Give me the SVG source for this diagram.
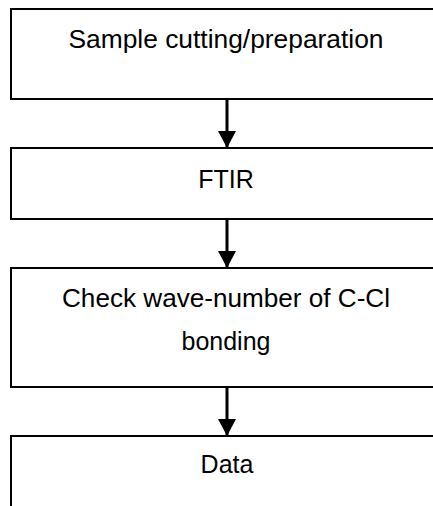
<svg xmlns="http://www.w3.org/2000/svg" width="433" height="506" viewBox="0 0 433 506">
<style>
.box{fill:#fff;stroke:#000;stroke-width:2}
.lbl{font-family:"Liberation Sans",Arial,sans-serif;font-size:25px;fill:#000;text-anchor:middle}
.conn{stroke:#000;stroke-width:3;fill:none}
</style>
<defs>
<marker id="ah" viewBox="0 0 17 18" refX="17" refY="9" markerWidth="17" markerHeight="18" markerUnits="userSpaceOnUse" orient="auto">
<path d="M0,0 L17,9 L0,18 Z" fill="#000"/>
</marker>
</defs>
<rect width="433" height="506" fill="#fff"/>
<g id="node1"><rect class="box" x="11" y="9" width="440" height="90"/><text class="lbl" x="226" y="48" textLength="315" lengthAdjust="spacingAndGlyphs">Sample cutting/preparation</text></g>
<g id="node2"><rect class="box" x="11" y="148" width="440" height="71"/><text class="lbl" x="226" y="188">FTIR</text></g>
<g id="node3"><rect class="box" x="11" y="268" width="440" height="119"/><text class="lbl" x="226" y="307" textLength="328" lengthAdjust="spacingAndGlyphs">Check wave-number of C-Cl</text><text class="lbl" x="226" y="350">bonding</text></g>
<g id="node4"><rect class="box" x="11" y="436" width="440" height="90"/><text class="lbl" x="227" y="473">Data</text></g>
<g id="connectors">
<path d="M227,99 V148" class="conn" marker-end="url(#ah)"/>
<path d="M227,219 V268" class="conn" marker-end="url(#ah)"/>
<path d="M227,387 V436" class="conn" marker-end="url(#ah)"/>
</g>
</svg>
